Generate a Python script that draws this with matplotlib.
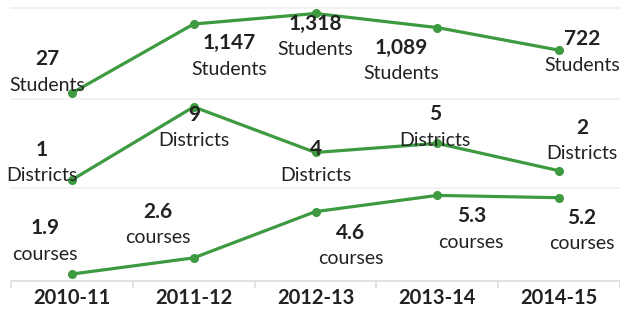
import matplotlib
matplotlib.use("Agg")
import matplotlib.pyplot as plt

years = ["2010-11", "2011-12", "2012-13", "2013-14", "2014-15"]
students = [27, 1147, 1318, 1089, 722]
districts = [1, 9, 4, 5, 2]
courses = [1.9, 2.6, 4.6, 5.3, 5.2]

student_labels = ["27", "1,147", "1,318", "1,089", "722"]
district_labels = ["1", "9", "4", "5", "2"]
course_labels = ["1.9", "2.6", "4.6", "5.3", "5.2"]

GREEN = "#3d9a40"
plt.rcParams["font.family"] = ["Lato", "DejaVu Sans"]

fig = plt.figure(figsize=(6.2, 3.09), dpi=100)

# panel layout: (bottom, height, ylim, label offsets in pixels (dx, dy of number centre))
panels = [
    (students, student_labels, "Students", 0.6796, 0.2945, (-70, 1407),
     [(-25, 34), (36, -19), (0, -10), (-36, -20), (23, 11)]),
    (districts, district_labels, "Districts", 0.3916, 0.288, (0.11, 9.86),
     [(-30, 30), (0, -8), (0, 3), (-2, 29), (23, 43)]),
    (courses, course_labels, "courses", 0.0906, 0.301, (1.6, 5.62),
     [(-27, 46), (-36, 46), (35, -21), (34, -21), (23, -20)]),
]

x = list(range(len(years)))
axes = []
for vals, labs, unit, bottom, height, ylim, offs in panels:
    ax = fig.add_axes([11 / 620, bottom, 609 / 620, height])
    ax.plot(x, vals, color=GREEN, lw=2.3, marker="o", ms=5.5, clip_on=False)
    ax.set_xlim(-0.5, 4.5)
    ax.set_ylim(*ylim)
    for s in ["left", "right", "bottom"]:
        ax.spines[s].set_visible(False)
    ax.spines["top"].set_color("#f0f0f0")
    ax.spines["top"].set_linewidth(1.2)
    ax.set_yticks([])
    ax.set_xticks([])
    for i, (v, lab) in enumerate(zip(vals, labs)):
        dx, dy = offs[i]
        ax.annotate(lab, (i, v), xytext=(dx, dy), textcoords="offset pixels",
                    ha="center", va="center", fontsize=15, fontweight="bold",
                    color="#222222")
        ax.annotate(unit, (i, v), xytext=(dx, dy - 26), textcoords="offset pixels",
                    ha="center", va="center", fontsize=14, color="#222222")
    axes.append(ax)

ax = axes[-1]
ax.spines["bottom"].set_visible(True)
ax.spines["bottom"].set_color("#dddddd")
ax.spines["bottom"].set_linewidth(1.2)
ax.set_xticks([-0.5, 0.5, 1.5, 2.5, 3.5, 4.5])
ax.set_xticklabels([])
ax.tick_params(axis="x", which="major", length=5, color="#dddddd", width=1.2)
ax.set_xticks(x, minor=True)
ax.set_xticklabels(years, minor=True, fontsize=14.5, fontweight="bold", color="#222222")
ax.tick_params(axis="x", which="minor", length=0, pad=5)

fig.savefig("out.png", dpi=100)
